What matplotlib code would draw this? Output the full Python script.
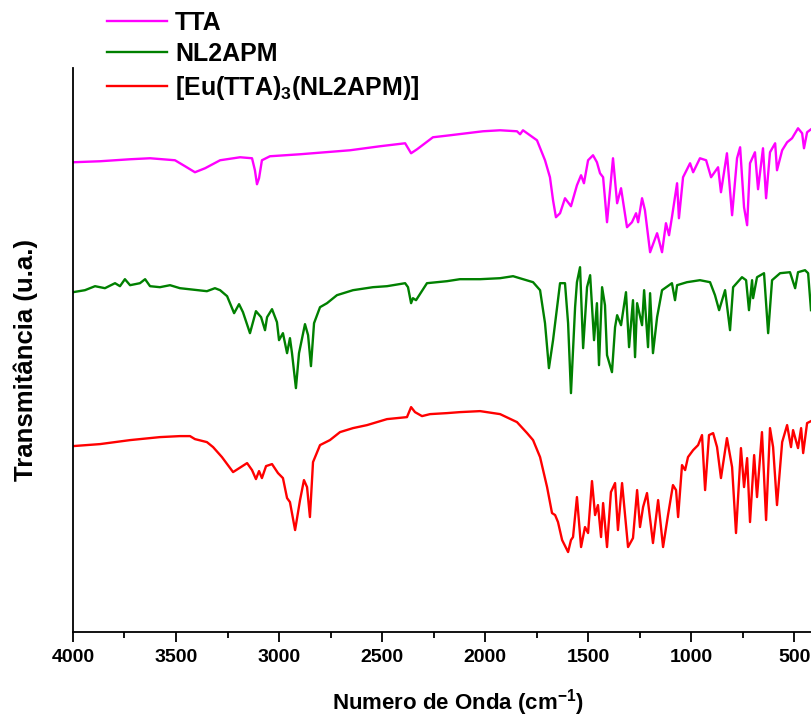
import numpy as np
import matplotlib
matplotlib.use("Agg")
import matplotlib.pyplot as plt
from matplotlib.ticker import MultipleLocator

plt.rcParams['font.family'] = ['Liberation Sans', 'DejaVu Sans']
plt.rcParams['mathtext.fontset'] = 'custom'
plt.rcParams['mathtext.rm'] = 'Liberation Sans:bold'
plt.rcParams['mathtext.bf'] = 'Liberation Sans:bold'
plt.rcParams['mathtext.it'] = 'Liberation Sans:bold'

# FTIR spectra, wavenumber (cm-1) vs transmittance (arbitrary units, stacked)
tta_wn = [4000, 3869, 3723, 3626, 3505, 3456, 3408, 3359, 3286, 3189, 3131, 3117, 3107, 3097,
          3083, 3044, 2898, 2655, 2510, 2388, 2359, 2330, 2253, 2170, 2010, 1927, 1845, 1830,
          1816, 1782, 1748, 1709, 1685, 1670, 1656, 1636, 1612, 1583, 1554, 1534, 1520, 1500,
          1476, 1457, 1442, 1427, 1408, 1379, 1359, 1340, 1311, 1287, 1267, 1257, 1238, 1224,
          1199, 1165, 1141, 1122, 1107, 1093, 1068, 1059, 1039, 1005, 990, 957, 927, 903, 869,
          855, 826, 801, 777, 762, 743, 728, 714, 690, 675, 651, 636, 617, 592, 583, 558, 534,
          510, 481, 461, 452, 437, 418]
tta_t = [470, 471, 473, 474, 472, 466, 460, 464, 472, 475, 474, 462, 448, 454,
         472, 476, 478, 482, 486, 489, 479, 483, 495, 497, 501, 502, 501, 498,
         502, 497, 492, 472, 455, 432, 415, 419, 434, 426, 447, 457, 449, 472,
         477, 470, 459, 455, 410, 474, 429, 444, 405, 410, 419, 410, 434, 422,
         380, 399, 380, 409, 397, 415, 449, 414, 455, 469, 460, 474, 472, 455, 465,
         440, 479, 417, 474, 485, 425, 407, 469, 480, 443, 484, 434, 480, 489, 462, 482, 490,
         494, 504, 499, 484, 500, 503]

nl2apm_wn = [4000, 3942, 3893, 3845, 3796, 3772, 3748, 3723, 3675, 3650, 3626, 3578, 3529, 3481,
             3350, 3311, 3286, 3252, 3218, 3194, 3175, 3141, 3112, 3087, 3068, 3058, 3034, 3010,
             3000, 2981, 2961, 2947, 2937, 2918, 2903, 2874, 2859, 2845, 2830, 2801, 2767, 2719,
             2641, 2544, 2476, 2388, 2374, 2359, 2350, 2335, 2282, 2185, 2122, 2024, 1927, 1864,
             1767, 1733, 1709, 1690, 1670, 1636, 1612, 1597, 1583, 1563, 1554, 1539, 1524, 1505,
             1490, 1471, 1457, 1447, 1432, 1418, 1408, 1384, 1369, 1359, 1340, 1316, 1301, 1282,
             1272, 1262, 1238, 1228, 1209, 1199, 1185, 1165, 1141, 1093, 1078, 1068, 1020, 957,
             908, 884, 864, 835, 811, 796, 753, 733, 719, 704, 699, 680, 646, 626, 607, 568, 520,
             495, 481, 447, 432, 418]
nl2apm_t = [340, 342, 346, 344, 349, 346, 353, 347, 349, 353, 346, 345, 347, 344,
            341, 344, 342, 336, 319, 328, 320, 299, 321, 315, 302, 315, 323, 310,
            292, 299, 279, 294, 279, 244, 279, 308, 297, 266, 309, 325, 329, 337,
            342, 345, 346, 349, 345, 329, 334, 332, 349, 351, 353, 353, 354, 356,
            350, 342, 309, 264, 292, 349, 349, 309, 239, 325, 350, 365, 284, 345,
            357, 292, 329, 267, 345, 327, 277, 260, 305, 317, 307, 340, 285, 332,
            275, 329, 307, 342, 285, 339, 279, 315, 342, 349, 332, 347, 350, 352,
            350, 337, 322, 342, 302, 345, 355, 352, 322, 352, 334, 355, 359, 299, 352, 359, 360,
            344, 360, 362, 359, 322]

complex_wn = [4000, 3869, 3723, 3578, 3481, 3432, 3408, 3350, 3320, 3277, 3223, 3155, 3131, 3112,
              3097, 3083, 3063, 3034, 3005, 2981, 2961, 2947, 2922, 2898, 2879, 2864, 2850, 2835,
              2801, 2753, 2704, 2641, 2573, 2476, 2379, 2359, 2340, 2306, 2267, 2185, 2122, 2024,
              1927, 1845, 1796, 1767, 1733, 1699, 1675, 1660, 1646, 1626, 1597, 1583, 1573, 1554,
              1534, 1515, 1500, 1481, 1466, 1452, 1437, 1427, 1408, 1389, 1369, 1355, 1335, 1306,
              1282, 1262, 1248, 1233, 1214, 1185, 1160, 1136, 1112, 1088, 1073, 1063, 1044, 1029,
              1015, 990, 966, 947, 932, 913, 893, 874, 855, 826, 801, 782, 758, 743, 728, 714, 694,
              680, 656, 636, 617, 602, 583, 558, 534, 515, 505, 481, 466, 456, 437, 418]
complex_t = [186, 188, 192, 195, 196, 196, 193, 190, 185, 175, 160, 169, 162, 153,
             161, 154, 166, 168, 159, 154, 134, 130, 102, 132, 152, 145, 115, 170,
             187, 192, 200, 204, 207, 213, 215, 225, 220, 216, 218, 219, 220, 221,
             218, 210, 199, 192, 175, 145, 119, 117, 110, 92, 80, 92, 95, 135,
             85, 105, 99, 151, 117, 127, 95, 129, 85, 140, 149, 102, 149, 85,
             94, 142, 105, 125, 139, 89, 132, 85, 117, 147, 142, 115, 167, 162,
             175, 182, 187, 197, 142, 197, 199, 185, 154, 194, 165, 99, 184, 145, 174, 110, 177,
             135, 200, 112, 204, 185, 127, 190, 207, 185, 202, 184, 204, 179, 209, 211]

series = [
    ("TTA", tta_wn, tta_t, "#FF00FF"),
    ("NL2APM", nl2apm_wn, nl2apm_t, "#008000"),
    (r"[Eu(TTA)$_{\mathbf{3}}$(NL2APM)]", complex_wn, complex_t, "#FF0000"),
]

fig = plt.figure(figsize=(8.11, 7.19), dpi=100)
ax = fig.add_axes([0.090, 0.121, 0.910, 0.784])

for label, wn, t, color in series:
    ax.plot(wn, t, color=color, linewidth=1.7, label=label)

ax.set_xlim(4000, 418)
ax.set_ylim(0, 564)
ax.xaxis.set_major_locator(MultipleLocator(500))
ax.xaxis.set_minor_locator(MultipleLocator(250))
ax.set_yticks([])

for side in ("top", "right"):
    ax.spines[side].set_visible(False)
for side in ("left", "bottom"):
    ax.spines[side].set_linewidth(1.3)

ax.tick_params(axis="x", which="major", direction="out", length=7, width=1.3,
               labelsize=14, pad=5)
ax.tick_params(axis="x", which="minor", direction="out", length=4, width=1.3)
for lbl in ax.get_xticklabels():
    lbl.set_fontweight("bold")

xl = ax.set_xlabel(r"Numero de Onda (cm$^{\mathbf{-1}}$)", fontsize=16, fontweight="bold")
ax.xaxis.set_label_coords(0.522, -0.126)
xl.set_va("center")
yl = ax.set_ylabel("Transmitância (u.a.)", fontsize=18.5, fontweight="bold")
ax.yaxis.set_label_coords(-0.064, 0.482)
yl.set_va("center")

leg = fig.legend(loc="upper left", bbox_to_anchor=(0.1196, 0.999), borderaxespad=0,
                 frameon=False, prop={"size": 18, "weight": "bold"}, handlelength=2.4,
                 handletextpad=0.32, labelspacing=0.3)

fig.savefig("out.png", dpi=100)
